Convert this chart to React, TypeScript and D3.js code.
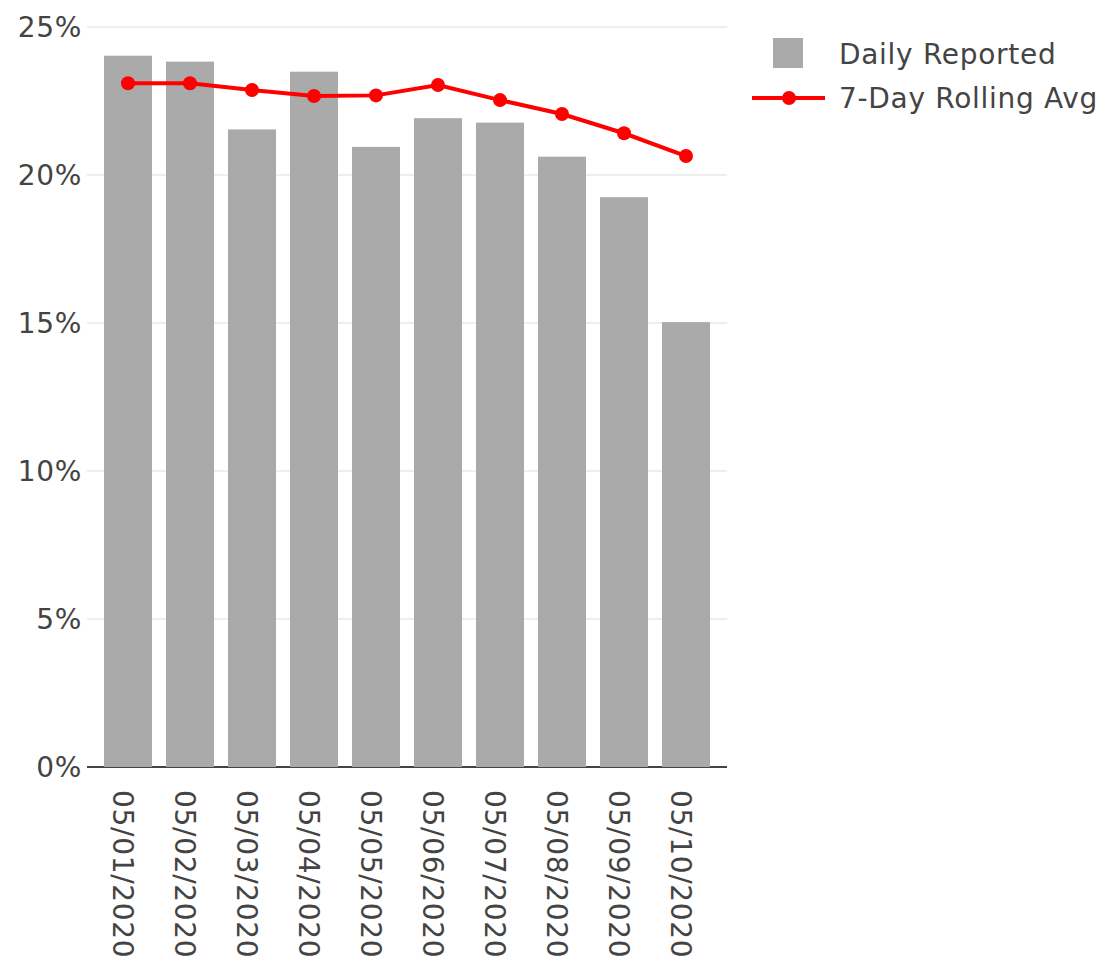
import React from "react";
import { scaleBand, scaleLinear, line } from "d3";

const dates = [
  "05/01/2020",
  "05/02/2020",
  "05/03/2020",
  "05/04/2020",
  "05/05/2020",
  "05/06/2020",
  "05/07/2020",
  "05/08/2020",
  "05/09/2020",
  "05/10/2020",
];
const dailyReported = [24.03, 23.83, 21.54, 23.49, 20.95, 21.92, 21.77, 20.62, 19.25, 15.03];
const rollingAvg = [23.1, 23.1, 22.87, 22.67, 22.69, 23.04, 22.53, 22.06, 21.41, 20.64];
const yTicks = [0, 5, 10, 15, 20, 25];
const legendLabels = ["Daily Reported", "7-Day Rolling Avg"];

const width = 1104;
const height = 958;
const font = "'DejaVu Sans', Verdana, sans-serif";
const textColor = "#444";

function App() {
  // plot area
  const left = 97;
  const right = 717;
  const top = 27;
  const bottom = 767;

  const xScale = scaleBand<string>()
    .domain(dates)
    .range([left, right])
    .paddingInner(0.226)
    .paddingOuter(0.113);

  const yScale = scaleLinear().domain([0, 25]).range([bottom, top]);

  const cx = (d: string) => (xScale(d) ?? 0) + xScale.bandwidth() / 2;

  const avgLine = line<number>()
    .x((_, i) => cx(dates[i]))
    .y((d) => yScale(d));

  return (
    <svg
      width={width}
      height={height}
      style={{ position: "absolute", left: 0, top: 0, background: "#fff" }}
      fontFamily={font}
      letterSpacing={0.7}
    >
      {/* grid */}
      {yTicks
        .filter((t) => t !== 0)
        .map((t) => (
          <line
            key={t}
            x1={left - 10}
            x2={right + 10}
            y1={yScale(t)}
            y2={yScale(t)}
            stroke="#eee"
            strokeWidth={2}
          />
        ))}

      {/* x axis line, sits under the bars */}
      <line x1={left - 10} x2={right + 10} y1={bottom} y2={bottom} stroke="#444" strokeWidth={2} />

      {/* bars */}
      {dailyReported.map((v, i) => (
        <rect
          key={dates[i]}
          x={xScale(dates[i])}
          y={yScale(v)}
          width={xScale.bandwidth()}
          height={bottom - yScale(v)}
          fill="#aaaaaa"
        />
      ))}

      {/* rolling average */}
      <path d={avgLine(rollingAvg) ?? ""} fill="none" stroke="#ff0000" strokeWidth={4} />
      {rollingAvg.map((v, i) => (
        <circle key={dates[i]} cx={cx(dates[i])} cy={yScale(v)} r={7} fill="#ff0000" />
      ))}

      {/* y tick labels */}
      {yTicks.map((t) => (
        <text
          key={t}
          x={82}
          y={yScale(t)}
          dy="0.36em"
          textAnchor="end"
          fontSize={28}
          fill={textColor}
        >
          {t}%
        </text>
      ))}

      {/* x tick labels */}
      {dates.map((d) => (
        <text
          key={d}
          transform={`translate(${cx(d) - 5},${790}) rotate(90)`}
          dy="0.36em"
          fontSize={28}
          fill={textColor}
        >
          {d}
        </text>
      ))}

      {/* legend */}
      <rect x={773} y={38} width={30} height={30} fill="#aaaaaa" />
      <text x={839} y={64} fontSize={28} fill={textColor}>
        {legendLabels[0]}
      </text>
      <line x1={752} x2={825} y1={98} y2={98} stroke="#ff0000" strokeWidth={4} />
      <circle cx={789} cy={98} r={7} fill="#ff0000" />
      <text x={839} y={108} fontSize={28} fill={textColor}>
        {legendLabels[1]}
      </text>
    </svg>
  );
}

export default App;
